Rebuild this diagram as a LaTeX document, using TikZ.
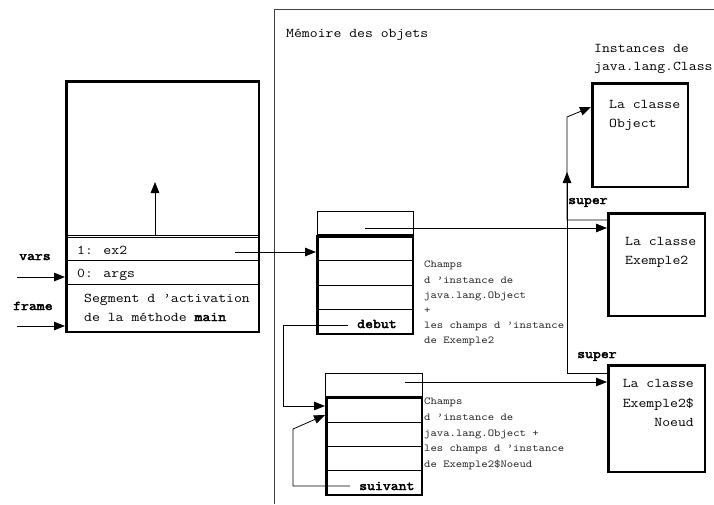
\documentclass[tikz,border=0pt]{standalone}
\usepackage{fontspec}
\setmainfont{Latin Modern Mono}[FakeStretch=1.143]
\newfontfamily\monobold{Latin Modern Mono}[FakeStretch=1.143, FakeBold=3]
\usetikzlibrary{arrows.meta}
\begin{document}
\begin{tikzpicture}[x=1pt,y=-1pt,
  txt/.style={font=\fontsize{13.4}{15}\selectfont, inner sep=0, anchor=base west},
  bold/.style={font=\fontsize{13.4}{15}\selectfont\monobold, inner sep=0, anchor=base west},
  small/.style={font=\fontsize{10.6}{12}\selectfont, inner sep=0, anchor=base west, text=black!85},
  thin/.style={line width=0.8pt},
  thickbox/.style={draw, line width=2.5pt, inner sep=0, anchor=north west},
  hdrbox/.style={draw, line width=0.8pt, inner sep=0, anchor=south west, minimum height=23pt},
  arr/.style={thin, -{Triangle[length=11pt,width=8.5pt]}},
]
\useasboundingbox (0,0) rectangle (714,504);
\fill[white] (0,0) rectangle (714,504);

% memory frame
\draw[thin, black!75] (274,504) -- (274,9) -- (714,9);
\node[txt] (mem) at (286,37) {Mémoire des objets};
\node[txt] (inst1) at (594,52) {Instances de};
\node[txt] (inst2) at (594,70) {java.lang.Class};

% stack frame
\node[thickbox, minimum width=192.5pt, minimum height=250.5pt] (stack) at (65,80) {};
\draw[thin] (65,235) -- (260,235);
\draw[thin] (65,237.5) -- (260,237.5);
\draw[thin] (65,260) -- (260,260);
\draw[thin] (65,284) -- (260,284);
\node[txt] (ex2) at (77,254) {1: ex2};
\node[txt] (args) at (77,277) {0: args};
\node[txt] (seg1) at (84,302) {Segment d ’activation};
\node[txt] (seg2) at (84,321) {de la méthode {\monobold main}};
\node[bold] (vars) at (19,260) {vars};
\node[bold] (frame) at (13,310) {frame};

% object 1
\node[hdrbox, minimum width=96pt] (h1) at (317,235) {};
\node[thickbox, minimum width=95.5pt, minimum height=97.5pt] (obj1) at (316,235) {};
\draw[thin] (316,260) -- (414,260);
\draw[thin] (316,285) -- (414,285);
\draw[thin] (316,309) -- (414,309);
\node[bold] (debut) at (357,328) {debut};
\foreach \t/\y [count=\i] in {Champs/267, d ’instance de/283, java.lang.Object/298, +/313, les champs d ’instance/328, de Exemple2/343}
  \node[small] (chA\i) at (424,\y) {\t};

% object 2
\node[hdrbox, minimum width=97pt] (h2) at (325,397) {};
\node[thickbox, minimum width=95.5pt, minimum height=97.5pt] (obj2) at (325,396) {};
\draw[thin] (325,422) -- (423,422);
\draw[thin] (325,446) -- (423,446);
\draw[thin] (325,470) -- (423,470);
\node[bold] (suivant) at (359,490) {suivant};
\foreach \t/\y [count=\i] in {Champs/404, d ’instance de/420, java.lang.Object +/436, les champs d ’instance/451, de Exemple2\$Noeud/467}
  \node[small] (chB\i) at (424,\y) {\t};

% class instances
\node[thickbox, minimum width=95.5pt, minimum height=103.5pt] (objcls) at (591,82) {};
\node[txt] (oc1) at (609,108) {La classe};
\node[txt] (oc2) at (609,127) {Object};
\node[thickbox, minimum width=96.5pt, minimum height=102.5pt] (ex2cls) at (607,212) {};
\node[txt] (ec1) at (625,245) {La classe};
\node[txt] (ec2) at (625,264) {Exemple2};
\node[thickbox, minimum width=96.5pt, minimum height=106.5pt] (ndcls) at (607,364) {};
\node[txt, anchor=base east] (nc1) at (694,387) {La classe};
\node[txt, anchor=base east] (nc2) at (694,407) {Exemple2\$};
\node[txt, anchor=base east] (nc3) at (694,426) {Noeud};
\node[bold] (sup1) at (568,204) {super};
\node[bold] (sup2) at (577,358) {super};

% coordinates
\coordinate (varsS) at (17,277);
\coordinate (frameS) at (17,326);
\coordinate (upS) at (155,235);
\coordinate (upE) at (155,182);
\coordinate (ex2S) at (235,252);
\coordinate (c1S) at (365,228);
\coordinate (c2S) at (405,382);
\coordinate (s1a) at (567,220);
\coordinate (s1b) at (567,117);
\coordinate (y107) at (0,107);
\coordinate (s2a) at (567,373);
\coordinate (s2b) at (567,172);
\coordinate (dS) at (348,325);
\coordinate (dA) at (283,325);
\coordinate (dB) at (283,406);
\coordinate (sS) at (350,486);
\coordinate (sA) at (293,486);
\coordinate (sB) at (293,429);
\coordinate (y415) at (0,415);

% connectors
\draw[arr] (varsS) -- (varsS -| stack.west);
\draw[arr] (frameS) -- (frameS -| stack.west);
\draw[arr] (upS) -- (upE);
\draw[arr] (ex2S) -- (ex2S -| obj1.west);
\draw[arr] (c1S) -- (c1S -| ex2cls.west);
\draw[arr] (c2S) -- (c2S -| ndcls.west);
\draw[arr] (s1a -| ex2cls.west) -- (s1a) -- (s1b) -- (objcls.west |- y107);
\draw[arr] (s2a -| ndcls.west) -- (s2a) -- (s2b);
\draw[arr] (dS) -- (dA) -- (dB) -- (dB -| obj2.west);
\draw[arr] (sS) -- (sA) -- (sB) -- (obj2.west |- y415);
\end{tikzpicture}
\end{document}
